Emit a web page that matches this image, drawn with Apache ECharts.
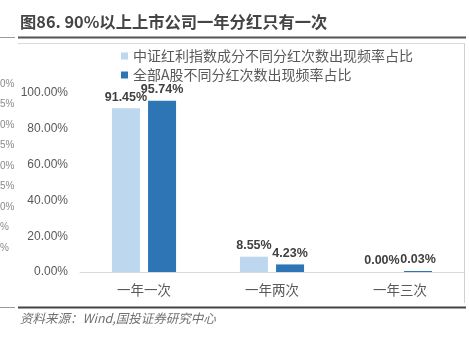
<!DOCTYPE html>
<html>
<head>
<meta charset="utf-8">
<script src="https://cdn.jsdelivr.net/npm/echarts@6/dist/echarts.min.js"></script>
<style>
html,body{margin:0;padding:0;background:#fff;}
#c{width:469px;height:337px;}
</style>
</head>
<body>
<div id="c"></div>
<script>
var titleText = '图86. 90%以上上市公司一年分红只有一次';
var sourceText = '资料来源：Wind,国投证券研究中心';
var categories = ['一年一次', '一年两次', '一年三次'];
var seriesNames = ['中证红利指数成分不同分红次数出现频率占比', '全部A股不同分红次数出现频率占比'];
var csiDividendShare = [91.45, 8.55, 0.00];
var allAShare = [95.74, 4.23, 0.03];
var yTicks = [0, 20, 40, 60, 80, 100];
var leftFragments = ['0%', '5%', '0%', '5%', '0%', '5%', '0%', '%', '%'];

var chart = echarts.init(document.getElementById('c'), null, {renderer: 'canvas'});
var font = 'Liberation Sans, Arial, Noto Sans CJK SC, sans-serif';
var cjk = 'Noto Sans CJK SC, sans-serif';

var graphics = [
  {type: 'text', left: 20, top: 14, style: {text: titleText, font: 'bold 16.3px ' + cjk, fill: '#454545'}},
  {type: 'line', shape: {x1: 0, y1: 37.5, x2: 15, y2: 37.5}, style: {stroke: '#9a9a9a', lineWidth: 1}},
  {type: 'line', shape: {x1: 18, y1: 37.5, x2: 466, y2: 37.5}, style: {stroke: '#555555', lineWidth: 2}},
  {type: 'line', shape: {x1: 18, y1: 43.5, x2: 464.5, y2: 43.5}, style: {stroke: '#d9d9d9', lineWidth: 1}},
  {type: 'line', shape: {x1: 464.5, y1: 43.5, x2: 464.5, y2: 303}, style: {stroke: '#d0d0d0', lineWidth: 1}},
  {type: 'line', shape: {x1: 0, y1: 307.5, x2: 15, y2: 307.5}, style: {stroke: '#9a9a9a', lineWidth: 1}},
  {type: 'line', shape: {x1: 18, y1: 307.5, x2: 466, y2: 307.5}, style: {stroke: '#444444', lineWidth: 2}},
  {type: 'text', left: 20, top: 312, style: {text: sourceText, font: 'italic 12.5px ' + cjk, fill: '#707070'}}
];
leftFragments.forEach(function (t, i) {
  graphics.push({type: 'text', left: 0, top: 79 + i * 20.5, style: {text: t, font: '10px ' + font, fill: '#8a8a8a'}});
});

var labelStyle = {
  show: true, position: 'top', distance: 5,
  fontFamily: font, fontSize: 12.5, fontWeight: 'bold', color: '#404040',
  formatter: function (p) { return p.value.toFixed(2) + '%'; }
};

chart.setOption({
  animation: false,
  backgroundColor: '#ffffff',
  graphic: graphics,
  legend: {
    orient: 'vertical', left: 116, top: 44,
    itemWidth: 7, itemHeight: 7, itemGap: 5,
    icon: 'rect',
    textStyle: {fontFamily: cjk, fontSize: 14, color: '#595959'},
    data: seriesNames
  },
  grid: {left: 80, right: 5, top: 93, bottom: 65},
  xAxis: {
    type: 'category', data: categories,
    axisLine: {lineStyle: {color: '#d9d9d9'}},
    axisTick: {show: false},
    axisLabel: {fontFamily: cjk, fontSize: 13.5, color: '#595959', margin: 11}
  },
  yAxis: {
    type: 'value', min: 0, max: 100, interval: 20,
    axisLine: {show: false}, axisTick: {show: false},
    splitLine: {show: false},
    axisLabel: {fontFamily: font, fontSize: 12, color: '#595959', margin: 12,
      formatter: function (v) { return v.toFixed(2) + '%'; }}
  },
  series: [
    {name: seriesNames[0], type: 'bar', data: csiDividendShare, barWidth: 28, barGap: '29%',
     itemStyle: {color: '#bdd7ee'}, label: labelStyle},
    {name: seriesNames[1], type: 'bar', data: allAShare, barWidth: 28, barGap: '29%', barMinHeight: 1,
     itemStyle: {color: '#2e75b6'}, label: labelStyle}
  ]
});
</script>
</body>
</html>
